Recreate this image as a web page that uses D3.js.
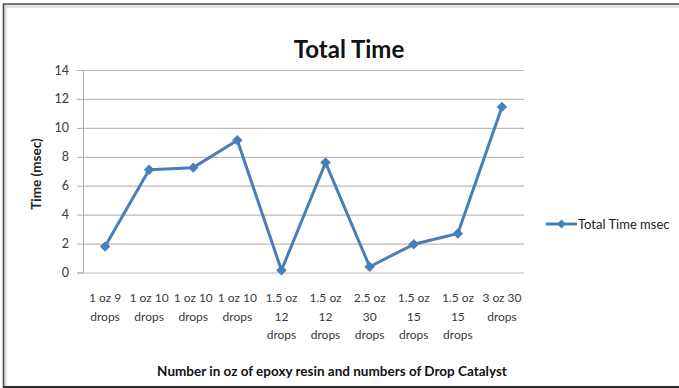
<!DOCTYPE html>
<html>
<head>
<meta charset="utf-8">
<script src="https://cdn.jsdelivr.net/npm/d3@7"></script>
<style>
  html, body { margin: 0; padding: 0; background: #fff; }
  svg { display: block; }
  text { font-family: Lato, "Open Sans", sans-serif; }
</style>
</head>
<body>
<script>
// Samples: epoxy resin amount (oz) and catalyst drop count, with measured total time
const categories = [
  ["1 oz 9", "drops"],
  ["1 oz 10", "drops"],
  ["1 oz 10", "drops"],
  ["1 oz 10", "drops"],
  ["1.5 oz", "12", "drops"],
  ["1.5 oz", "12", "drops"],
  ["2.5 oz", "30", "drops"],
  ["1.5 oz", "15", "drops"],
  ["1.5 oz", "15", "drops"],
  ["3 oz 30", "drops"]
];
const totalTime = [1.8, 7.1, 7.25, 9.15, 0.15, 7.6, 0.4, 1.95, 2.7, 11.45];
const yTicks = [0, 2, 4, 6, 8, 10, 12, 14];
const seriesName = "Total Time msec";

const W = 679, H = 388;
const plot = { left: 83, right: 524, top: 70, bottom: 272.5 };
const lineColor = "#4a7ebb";

const svg = d3.select("body").append("svg")
  .attr("width", W).attr("height", H);

// chart frame
svg.append("rect").attr("x", 0).attr("y", 0).attr("width", W).attr("height", H).attr("fill", "#fff");
svg.append("path").attr("d", `M5.5,${H} V6.5 H${W}`)
  .attr("fill", "none").attr("stroke", "#e3e3e3").attr("stroke-width", 3);
svg.append("path").attr("d", `M3.5,${H} V4 H${W}`)
  .attr("fill", "none").attr("stroke", "#4a4a4a").attr("stroke-width", 1.6);
svg.append("line").attr("x1", 3).attr("x2", W).attr("y1", 387).attr("y2", 387)
  .attr("stroke", "#2a2a2a").attr("stroke-width", 2);

const x = d3.scaleBand()
  .domain(d3.range(categories.length))
  .range([plot.left, plot.right]);
const y = d3.scaleLinear().domain([0, 14]).range([plot.bottom, plot.top]);

// horizontal gridlines
svg.append("g")
  .selectAll("line").data(yTicks).join("line")
  .attr("x1", plot.left).attr("x2", plot.right)
  .attr("y1", d => y(d) + 0.5).attr("y2", d => y(d) + 0.5)
  .attr("stroke", "#c4b6b2").attr("stroke-width", 1.2);

// y axis
const yAxis = svg.append("g")
  .attr("transform", `translate(${plot.left},0)`)
  .call(d3.axisLeft(y).tickValues(yTicks).tickSize(6).tickPadding(8).tickFormat(d3.format("d")));
yAxis.select(".domain").attr("stroke", "#b0b0b0");
yAxis.selectAll(".tick line").attr("stroke", "#b0b0b0");
yAxis.selectAll("text").attr("font-size", 12.5).attr("fill", "#3a3a3a")
  .style("font-family", "Lato, sans-serif");

// x axis labels (wrapped onto several lines)
const xAxis = svg.append("g");
xAxis.selectAll("text").data(categories).join("text")
  .attr("text-anchor", "middle")
  .attr("font-size", 12)
  .attr("fill", "#3a3a3a")
  .each(function (lines, i) {
    const t = d3.select(this);
    lines.forEach((ln, k) => {
      t.append("tspan")
        .attr("x", x(i) + x.bandwidth() / 2)
        .attr("y", 302 + k * 18.5)
        .text(ln);
    });
  });

// titles
svg.append("text")
  .attr("x", 349).attr("y", 58)
  .attr("text-anchor", "middle")
  .attr("font-size", 24).attr("font-weight", "bold").attr("fill", "#111")
  .text("Total Time");

svg.append("text")
  .attr("transform", `translate(41,174) rotate(-90)`)
  .attr("text-anchor", "middle")
  .attr("font-size", 13.5).attr("font-weight", "bold").attr("fill", "#222")
  .text("Time (msec)");

svg.append("text")
  .attr("x", 332).attr("y", 376)
  .attr("text-anchor", "middle")
  .attr("font-size", 13.5).attr("font-weight", "bold").attr("fill", "#111")
  .text("Number in oz of epoxy resin and numbers of Drop Catalyst");

// series line
const cx = i => x(i) + x.bandwidth() / 2;
svg.append("path")
  .datum(totalTime)
  .attr("fill", "none")
  .attr("stroke", lineColor)
  .attr("stroke-width", 3)
  .attr("stroke-linejoin", "round")
  .attr("d", d3.line().x((d, i) => cx(i)).y(d => y(d)));

const diamond = d3.symbol().type(d3.symbolDiamond2).size(70);
svg.append("g")
  .selectAll("path").data(totalTime).join("path")
  .attr("transform", (d, i) => `translate(${cx(i)},${y(d)})`)
  .attr("d", diamond)
  .attr("fill", lineColor);

// legend
const lg = svg.append("g").attr("transform", "translate(546,224)");
lg.append("line").attr("x1", 0).attr("x2", 31).attr("y1", 0).attr("y2", 0)
  .attr("stroke", lineColor).attr("stroke-width", 3);
lg.append("path").attr("transform", "translate(15.5,0)")
  .attr("d", d3.symbol().type(d3.symbolDiamond2).size(50)).attr("fill", lineColor);
lg.append("text").attr("x", 32).attr("y", 4.5)
  .attr("font-size", 13).attr("fill", "#222")
  .text(seriesName);
</script>
</body>
</html>
